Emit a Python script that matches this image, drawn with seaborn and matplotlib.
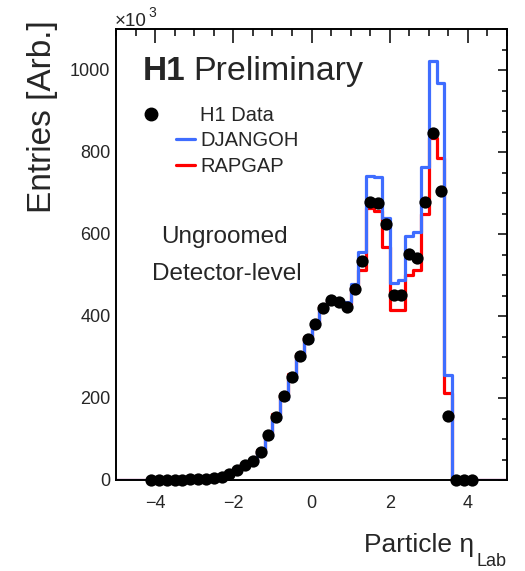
import numpy as np
import pandas as pd
import matplotlib
matplotlib.use("Agg")
import matplotlib.pyplot as plt
import seaborn as sns
from matplotlib.lines import Line2D
from matplotlib.legend_handler import HandlerLine2D
from matplotlib.ticker import MultipleLocator

# ---------------- data ----------------
bin_edges = [round(v, 2) for v in np.arange(-5.0, 5.0001, 0.2)]
bin_centers = [round((a + b) / 2, 2) for a, b in zip(bin_edges[:-1], bin_edges[1:])]

data_eta = [round(v, 2) for v in np.arange(-4.1, 4.1001, 0.2)]
data_vals = [0, 0, 0, 1, 1, 2, 2, 3, 4, 7, 15, 25, 37, 47, 69, 110, 154, 205, 252, 303, 345,
             380, 420, 438, 433, 422, 465, 534, 679, 676, 624, 452, 452, 552, 541, 679, 847,
             706, 156, 0, 0, 0]

djangoh_vals = [0, 0, 0, 0,
                0, 0, 0, 1, 1, 2, 2, 3, 4, 7, 14, 24, 35, 45, 66, 105, 148, 198, 246, 298, 340,
                380, 418, 436, 432, 435, 478, 555, 741, 738, 638, 480, 488, 595, 606, 764, 1023,
                969, 256, 0, 0, 0,
                0, 0, 0, 0]
rapgap_vals = [0, 0, 0, 0,
               0, 0, 0, 1, 1, 2, 2, 3, 4, 8, 16, 26, 38, 49, 72, 114, 160, 210, 258, 308, 350,
               385, 424, 440, 433, 430, 470, 512, 663, 655, 569, 415, 415, 500, 512, 650, 833,
               785, 211, 0, 0, 0,
               0, 0, 0, 0]

labels = ["H1 Data", "DJANGOH", "RAPGAP"]
x_ticks = [-4, -2, 0, 2, 4]
y_ticks = [0, 200, 400, 600, 800, 1000]

blue = "#3f6dff"
red = "#ff0000"

# ---------------- style ----------------
sns.set_theme(style="white")
plt.rcParams["font.family"] = ["Liberation Sans", "DejaVu Sans"]

fig = plt.figure(figsize=(5.25, 5.71), dpi=100)
ax = fig.add_axes([116 / 525, 91 / 571, 391 / 525, 451 / 571])

df_mc = pd.DataFrame({"eta": bin_centers, "djangoh": djangoh_vals, "rapgap": rapgap_vals})
df_data = pd.DataFrame({"eta": data_eta, "entries": data_vals})

sns.histplot(data=df_mc, x="eta", weights="rapgap", bins=bin_edges, element="step",
             fill=False, color=red, linewidth=2.3, ax=ax, zorder=2)
sns.histplot(data=df_mc, x="eta", weights="djangoh", bins=bin_edges, element="step",
             fill=False, color=blue, linewidth=2.3, ax=ax, zorder=3)
sns.scatterplot(data=df_data, x="eta", y="entries", color="black", s=78, linewidth=0,
                ax=ax, zorder=5, clip_on=False)

ax.set_xlim(-5, 5)
ax.set_ylim(0, 1100)
ax.set_xticks(x_ticks)
ax.set_yticks(y_ticks)
ax.xaxis.set_minor_locator(MultipleLocator(0.5))
ax.yaxis.set_minor_locator(MultipleLocator(50))
ax.set_xlabel("")
ax.set_ylabel("")

for s in ax.spines.values():
    s.set_linewidth(1.4)
    s.set_color("black")
    s.set_zorder(4)

ax.tick_params(axis="both", which="both", direction="in", top=True, right=True,
               color="black", width=1.1)
ax.tick_params(axis="x", which="major", length=10, pad=11, labelsize=13)
ax.tick_params(axis="x", which="minor", length=5)
ax.tick_params(axis="y", which="major", length=6.5, pad=4, labelsize=13)
ax.tick_params(axis="y", which="minor", length=3.6)

# ---------------- texts ----------------
ax.text((143 - 116) / 391, (480 - 80) / 451, "H1", transform=ax.transAxes,
        fontsize=24, fontweight="bold", va="baseline", ha="left")
ax.text((193 - 116) / 391, (480 - 80) / 451, "Preliminary", transform=ax.transAxes,
        fontsize=24.5, va="baseline", ha="left")
ax.text((224 - 116) / 391, (480 - 243) / 451, "Ungroomed", transform=ax.transAxes,
        fontsize=17.5, va="baseline", ha="center")
ax.text((227 - 116) / 391, (480 - 280) / 451, "Detector-level", transform=ax.transAxes,
        fontsize=17.5, va="baseline", ha="center")

fig.text(115 / 525, 1 - 26 / 571, "×10", fontsize=13.5, va="baseline", ha="left")
fig.text(148 / 525, 1 - 17 / 571, "3", fontsize=10, va="baseline", ha="left")

fig.text(43 / 525, 1 - 20 / 571, "Entries [Arb.]", rotation=90, fontsize=24,
         ha="center", va="top")
fig.text(474 / 525, 1 - 552 / 571, "Particle η", fontsize=19, ha="right", va="baseline")
fig.text(477 / 525, 1 - 566 / 571, "Lab", fontsize=13, ha="left", va="baseline")


# ---------------- legend ----------------
class MarkerLeft(HandlerLine2D):
    def create_artists(self, legend, orig_handle, xdescent, ydescent, width, height,
                       fontsize, trans):
        arts = super().create_artists(legend, orig_handle, xdescent, ydescent, width,
                                      height, fontsize, trans)
        for a in arts:
            xd = np.asarray(a.get_xdata(), dtype=float)
            a.set_xdata(xd - 1.8 * width)
        return arts


h_data = Line2D([], [], marker="o", color="black", linestyle="none", markersize=9)
h_dj = Line2D([], [], color=blue, linewidth=2.3)
h_rg = Line2D([], [], color=red, linewidth=2.3)
leg = ax.legend(handles=[h_data, h_dj, h_rg], labels=labels, loc="upper left",
                bbox_to_anchor=((176 - 116) / 391, (480 - 106) / 451), frameon=False,
                fontsize=14.5, handlelength=0.95, handletextpad=0.25, labelspacing=0.32,
                borderpad=0, borderaxespad=0, handler_map={h_data: MarkerLeft(numpoints=1)})

fig.savefig("out.png", dpi=100)
